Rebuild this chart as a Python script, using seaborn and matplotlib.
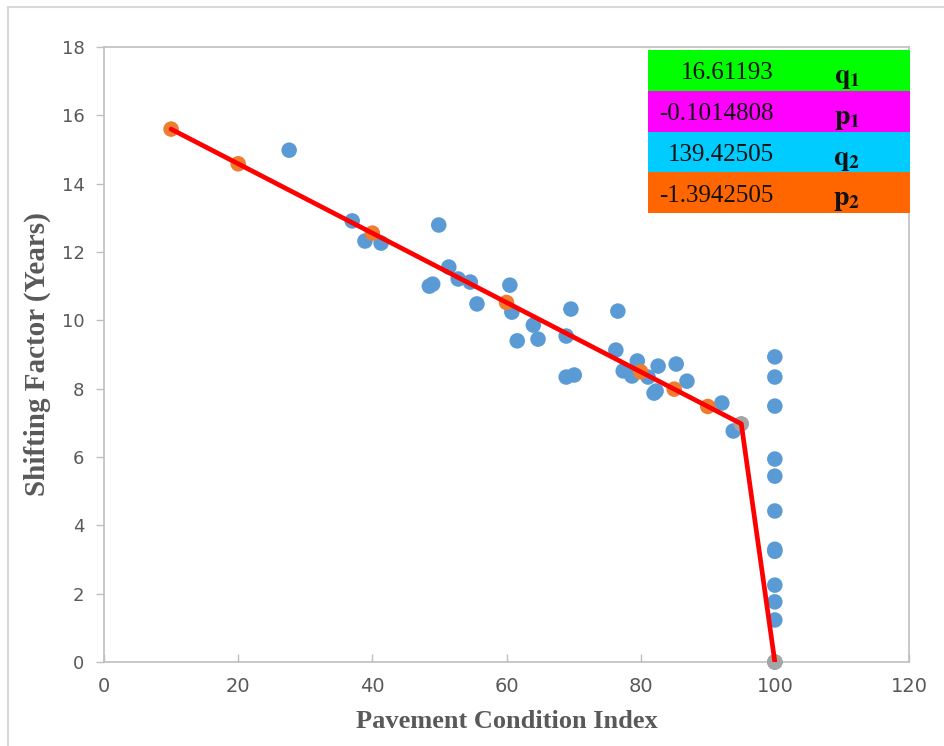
import matplotlib
matplotlib.use("Agg")
import matplotlib.pyplot as plt
from matplotlib.patches import Rectangle
from matplotlib.lines import Line2D
import seaborn as sns
import pandas as pd

# Observed shifting factors
obs_pci = [27.6, 37.0, 38.9, 41.3, 48.5, 49.0, 49.9, 51.4, 52.8, 54.6, 55.6,
           60.5, 60.8, 61.6, 64.0, 64.7, 68.9, 69.6, 68.9, 70.1, 76.6, 76.3,
           77.4, 78.7, 79.5, 81.1, 82.6, 82.0, 82.3, 85.3, 86.9, 92.1, 93.8,
           100, 100, 100, 100, 100, 100, 100, 100, 100, 100, 100, 100]
obs_sf = [14.98, 12.91, 12.32, 12.26, 11.00, 11.06, 12.79, 11.56, 11.21, 11.12, 10.48,
          11.03, 10.24, 9.40, 9.86, 9.45, 9.54, 10.33, 8.34, 8.40, 10.27, 9.13,
          8.52, 8.37, 8.81, 8.34, 8.66, 7.87, 7.93, 8.72, 8.22, 7.58, 6.76,
          8.93, 8.34, 7.49, 5.94, 5.44, 4.42, 3.30, 3.24, 2.25, 1.76, 1.23, 0.0]

# Piecewise model parameters
q1, p1 = 16.61193, -0.1014808
q2, p2 = 139.42505, -1.3942505
break_pci = 95
end_pci = 100

model_pci = [10, 20, 40, 60, 80, 85, 90]
model_sf = [q1 + p1 * x for x in model_pci]
knot_pci = [break_pci, end_pci]
knot_sf = [q1 + p1 * break_pci, q2 + p2 * end_pci]
line_pci = [10, break_pci, end_pci]
line_sf = [q1 + p1 * 10, q1 + p1 * break_pci, q2 + p2 * end_pci]

table_values = ["16.61193", "-0.1014808", "139.42505", "-1.3942505"]
table_names = [r"$\mathbf{q_1}$", r"$\mathbf{p_1}$", r"$\mathbf{q_2}$", r"$\mathbf{p_2}$"]
table_colors = ["#00FF00", "#FF00FF", "#00CCFF", "#FF6600"]

sns.set_theme(style="white")
plt.rcParams["mathtext.fontset"] = "stix"

fig = plt.figure(figsize=(9.44, 7.46), dpi=100)
ax = fig.add_axes([104 / 944, 1 - 662 / 746, (909 - 104) / 944, (662 - 47) / 746])

obs = pd.DataFrame({"pci": obs_pci, "sf": obs_sf})
mod = pd.DataFrame({"pci": model_pci, "sf": model_sf})
knots = pd.DataFrame({"pci": knot_pci, "sf": knot_sf})
line = pd.DataFrame({"pci": line_pci, "sf": line_sf})

sns.scatterplot(data=obs, x="pci", y="sf", ax=ax, color="#5B9BD5", s=125,
                edgecolor="none", zorder=3, clip_on=False)
sns.scatterplot(data=mod, x="pci", y="sf", ax=ax, color="#ED7D31", s=125,
                edgecolor="none", zorder=4, clip_on=False)
sns.scatterplot(data=knots, x="pci", y="sf", ax=ax, color="#A5A5A5", s=125,
                edgecolor="none", zorder=4, clip_on=False)
sns.lineplot(data=line, x="pci", y="sf", ax=ax, color="#FF0000", linewidth=3.4,
             sort=False, estimator=None, zorder=5)

ax.set_xlim(0, 120)
ax.set_ylim(0, 18)
ax.set_xticks(range(0, 121, 20))
ax.set_yticks(range(0, 19, 2))

for s in ax.spines.values():
    s.set_color("#BFBFBF")
    s.set_linewidth(1.2)

ax.tick_params(axis="y", direction="out", length=6, width=1, color="#BFBFBF",
               labelsize=13, labelcolor="#595959", pad=8, left=True)
ax.tick_params(axis="x", direction="in", length=6, width=1, color="#BFBFBF",
               labelsize=14, labelcolor="#595959", pad=11, bottom=True)

ax.set_xlabel("Pavement Condition Index", family="Liberation Serif",
              fontweight="bold", fontsize=19, color="#595959", labelpad=10)
ax.set_ylabel("Shifting Factor (Years)", family="Liberation Serif",
              fontweight="bold", fontsize=21, color="#595959", labelpad=8)

# Parameter table in the upper right corner
row_top = 50
row_h = 40.75
left_px, right_px = 648, 910
for i, (val, name, col) in enumerate(zip(table_values, table_names, table_colors)):
    top = row_top + i * row_h
    fig.patches.append(Rectangle((left_px / 944, 1 - (top + row_h) / 746),
                                 (right_px - left_px) / 944, row_h / 746,
                                 transform=fig.transFigure, facecolor=col,
                                 edgecolor="none", zorder=10))
    yc = 1 - (top + row_h / 2 + 3) / 746
    fig.text(774 / 944, yc, val, ha="right", va="center", family="Liberation Serif",
             fontsize=18, color="#111111", zorder=11)
    fig.text(847 / 944, yc - 0.005, name, ha="center", va="center",
             fontsize=20, color="#111111", zorder=11)

# Chart area frame
fig.lines.append(Line2D([8 / 944, 8 / 944], [0, 1 - 7 / 746], transform=fig.transFigure,
                        color="#D9D9D9", linewidth=1.5))
fig.lines.append(Line2D([8 / 944, 1], [1 - 7 / 746, 1 - 7 / 746], transform=fig.transFigure,
                        color="#D9D9D9", linewidth=1.5))

fig.savefig("out.png", dpi=100)
